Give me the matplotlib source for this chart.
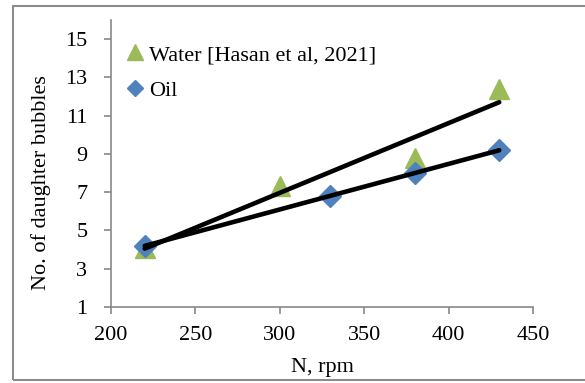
import numpy as np
import matplotlib.pyplot as plt
from matplotlib.patches import Rectangle

# donnees
rpm_eau = [220, 300, 380, 430]
bulles_eau = [4.1, 7.3, 8.8, 12.4]
rpm_huile = [220, 330, 380, 430]
bulles_huile = [4.2, 6.8, 8.0, 9.2]

x_ticks = [200, 250, 300, 350, 400, 450]
y_ticks = [1, 3, 5, 7, 9, 11, 13, 15]

plt.rcParams['font.family'] = ['Liberation Serif', 'DejaVu Serif']

fig = plt.figure(figsize=(5.85, 3.83), dpi=100)
ax = fig.add_axes([0.1897, 0.1984, 0.7214, 0.7494])

# cadre gris autour du graphique
fig.patches.append(Rectangle((13 / 585, 3 / 383), 1.2, 374 / 383, transform=fig.transFigure,
                             fill=False, edgecolor='#8c8c8c', linewidth=1.5))

ax.plot(rpm_eau, bulles_eau, linestyle='none', marker='^', markersize=15,
        color='#9bbb59', label='Water [Hasan et al, 2021]', zorder=3)
ax.plot(rpm_huile, bulles_huile, linestyle='none', marker='D', markersize=11,
        color='#4f81bd', label='Oil', zorder=4)

# courbes de tendance lineaires
for xs, ys in [(rpm_eau, bulles_eau), (rpm_huile, bulles_huile)]:
    a, b = np.polyfit(xs, ys, 1)
    xx = np.array([min(xs), max(xs)])
    ax.plot(xx, a * xx + b, color='black', linewidth=3.3, solid_capstyle='round', zorder=5)

ax.set_xlim(200, 450)
ax.set_ylim(1, 16)
ax.set_xticks(x_ticks)
ax.set_yticks(y_ticks)
ax.tick_params(labelsize=16, color='#878787', length=5, width=1.2)
ax.tick_params(axis='x', pad=9)
ax.tick_params(axis='y', pad=12)
for s in ['top', 'right']:
    ax.spines[s].set_visible(False)
for s in ['left', 'bottom']:
    ax.spines[s].set_color('#878787')
    ax.spines[s].set_linewidth(1.2)

ax.set_xlabel('N, rpm', fontsize=16, labelpad=9)
ax.set_ylabel('No. of daughter bubbles', fontsize=16)
ax.yaxis.set_label_coords(-0.142, 0.435)

ax.legend(loc='upper left', bbox_to_anchor=(0.005, 0.945), frameon=False, fontsize=16,
          handletextpad=0.0, handlelength=1.2, labelspacing=0.68, borderaxespad=0.0,
          markerscale=0.75)

fig.savefig('out.png', dpi=100)
